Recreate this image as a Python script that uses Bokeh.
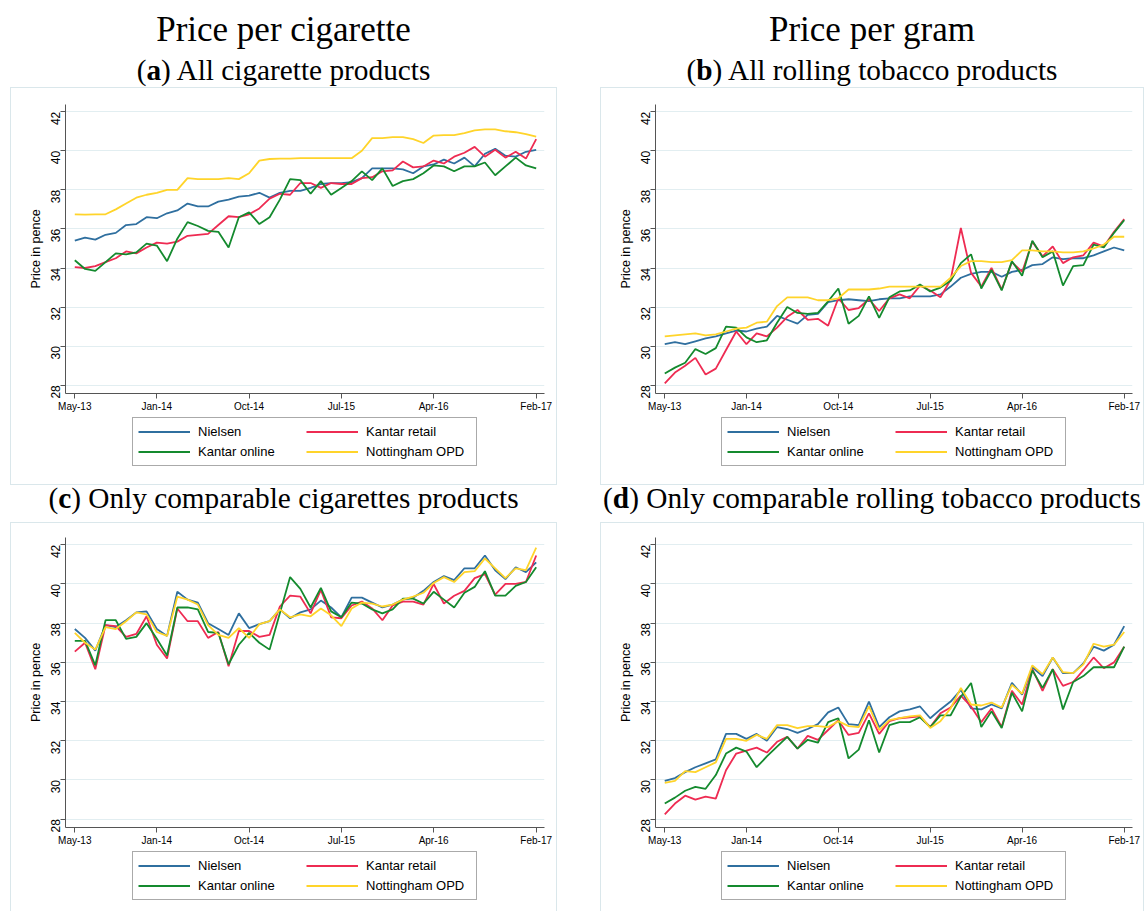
import math
from bokeh.plotting import figure
from bokeh.models import Range1d, FixedTicker, Legend, LegendItem, Div, Spacer
from bokeh.layouts import row, column
from bokeh.embed import file_html
from bokeh.resources import INLINE

months = list(range(46))
tick_pos = [0, 8, 17, 26, 35, 45]
tick_labels = ["May-13", "Jan-14", "Oct-14", "Jul-15", "Apr-16", "Feb-17"]
y_ticks = [28, 30, 32, 34, 36, 38, 40, 42]
series_names = ["Nielsen", "Kantar retail", "Kantar online", "Nottingham OPD"]
series_colors = ["#2f6f9f", "#ee2b52", "#148a2e", "#ffd42a"]

# (a) All cigarette products
nielsen_a = [35.4, 35.55, 35.45, 35.7, 35.8, 36.2, 36.25, 36.6, 36.55, 36.8,
             36.95, 37.3, 37.15, 37.15, 37.4, 37.5, 37.65, 37.7, 37.85, 37.6,
             37.85, 37.95, 37.95, 38.1, 38.3, 38.35, 38.35, 38.4, 38.6, 39.1,
             39.1, 39.1, 39.05, 38.85, 39.2, 39.3, 39.55, 39.35, 39.65, 39.2,
             39.85, 40.1, 39.75, 39.7, 39.95, 40.05]
retail_a = [34.05, 34.0, 34.1, 34.3, 34.5, 34.85, 34.75, 35.05, 35.3, 35.25,
            35.35, 35.65, 35.7, 35.75, 36.2, 36.65, 36.6, 36.75, 37.05, 37.55,
            37.8, 37.75, 38.35, 38.35, 38.1, 38.35, 38.3, 38.3, 38.6, 38.65,
            38.95, 39.0, 39.45, 39.15, 39.2, 39.5, 39.35, 39.7, 39.9, 40.2,
            39.7, 40.05, 39.65, 39.95, 39.6, 40.6]
online_a = [34.4, 33.95, 33.85, 34.3, 34.75, 34.7, 34.8, 35.25, 35.15, 34.35,
            35.5, 36.35, 36.15, 35.9, 35.85, 35.05, 36.6, 36.85, 36.25, 36.6,
            37.5, 38.55, 38.5, 37.8, 38.45, 37.75, 38.1, 38.45, 38.95, 38.5,
            39.1, 38.2, 38.45, 38.55, 38.85, 39.25, 39.2, 38.95, 39.2, 39.2,
            39.4, 38.75, 39.2, 39.65, 39.25, 39.1]
opd_a = [36.75, 36.73, 36.75, 36.75, 37.0, 37.3, 37.6, 37.75, 37.85, 38.0,
         38.0, 38.6, 38.55, 38.55, 38.55, 38.6, 38.55, 38.85, 39.5, 39.58,
         39.6, 39.6, 39.62, 39.62, 39.62, 39.62, 39.62, 39.62, 40.0, 40.65,
         40.65, 40.7, 40.7, 40.6, 40.4, 40.78, 40.8, 40.8, 40.9, 41.05,
         41.1, 41.1, 41.0, 40.95, 40.85, 40.72]

# (b) All rolling tobacco products
nielsen_b = [30.1, 30.2, 30.1, 30.25, 30.4, 30.5, 30.65, 30.8, 30.75, 30.9,
             31.0, 31.55, 31.35, 31.15, 31.6, 31.65, 32.25, 32.35, 32.4, 32.35,
             32.3, 32.4, 32.45, 32.45, 32.55, 32.55, 32.55, 32.65, 33.05, 33.5,
             33.7, 33.8, 33.8, 33.55, 33.8, 33.9, 34.15, 34.2, 34.55, 34.45,
             34.5, 34.5, 34.65, 34.85, 35.05, 34.9]
retail_b = [28.1, 28.65, 29.0, 29.4, 28.55, 28.85, 29.8, 30.75, 30.1, 30.65,
            30.5, 30.95, 31.5, 31.85, 31.35, 31.4, 31.05, 32.45, 31.85, 31.95,
            32.4, 31.8, 32.45, 32.65, 32.45, 33.1, 32.85, 32.5, 33.4, 36.05,
            33.75, 33.05, 34.0, 32.9, 34.3, 33.8, 35.35, 34.6, 35.1, 34.25,
            34.55, 34.65, 35.3, 35.1, 35.85, 36.5]
online_b = [28.6, 28.9, 29.15, 29.85, 29.6, 29.9, 31.0, 30.95, 30.45, 30.2,
            30.3, 31.2, 32.0, 31.7, 31.65, 31.7, 32.3, 32.95, 31.15, 31.55,
            32.55, 31.45, 32.5, 32.8, 32.85, 33.15, 32.8, 33.0, 33.35, 34.25,
            34.7, 32.95, 33.9, 32.85, 34.35, 33.6, 35.4, 34.55, 34.85, 33.1,
            34.1, 34.15, 35.2, 35.05, 35.8, 36.45]
opd_b = [30.5, 30.55, 30.6, 30.65, 30.55, 30.6, 30.75, 30.9, 30.95, 31.2,
         31.25, 32.05, 32.5, 32.5, 32.5, 32.35, 32.35, 32.45, 32.9, 32.9,
         32.9, 32.95, 33.05, 33.05, 33.05, 33.05, 33.05, 33.05, 33.5, 34.1,
         34.35, 34.35, 34.3, 34.3, 34.4, 34.9, 34.9, 34.85, 34.85, 34.8,
         34.8, 34.85, 35.0, 35.2, 35.6, 35.6]

# (c) Only comparable cigarettes products
nielsen_c = [37.7, 37.25, 36.6, 37.9, 37.8, 38.15, 38.55, 38.6, 37.7, 37.35,
             39.6, 39.2, 39.05, 38.0, 37.7, 37.4, 38.5, 37.75, 37.95, 38.1,
             38.7, 38.25, 38.55, 38.7, 39.15, 38.8, 38.3, 39.3, 39.3, 39.05,
             38.8, 38.95, 39.2, 39.3, 39.65, 40.1, 40.4, 40.2, 40.8, 40.8,
             41.45, 40.7, 40.25, 40.85, 40.6, 41.1]
retail_c = [36.55, 37.0, 35.65, 37.9, 37.85, 37.3, 37.45, 38.35, 36.9, 36.2,
            38.75, 38.1, 38.1, 37.25, 37.55, 35.8, 37.6, 37.6, 37.3, 37.4,
            38.85, 39.4, 39.35, 38.5, 39.7, 38.3, 38.25, 38.9, 39.1, 38.75,
            38.15, 38.9, 39.1, 39.1, 38.95, 40.0, 39.0, 39.4, 39.65, 40.3,
            40.5, 39.45, 40.0, 40.0, 40.1, 41.45]
online_c = [37.1, 37.1, 35.85, 38.15, 38.15, 37.2, 37.3, 38.0, 37.2, 36.35,
            38.8, 38.8, 38.7, 37.55, 37.5, 35.9, 36.9, 37.5, 37.0, 36.65,
            38.5, 40.35, 39.75, 38.8, 39.8, 38.6, 38.3, 39.05, 39.0, 38.7,
            38.5, 38.7, 39.25, 39.25, 39.0, 39.6, 39.2, 38.8, 39.55, 39.85,
            40.65, 39.4, 39.4, 39.9, 40.1, 40.85]
opd_c = [37.5, 37.0, 36.65, 37.8, 37.7, 38.1, 38.55, 38.45, 37.55, 37.35,
         39.35, 39.2, 38.95, 37.9, 37.4, 37.25, 37.75, 37.25, 37.95, 38.1,
         38.7, 38.3, 38.45, 38.35, 38.75, 38.4, 37.85, 38.75, 39.05, 39.0,
         38.85, 38.95, 39.2, 39.35, 39.55, 40.05, 40.35, 40.1, 40.6, 40.65,
         41.3, 40.8, 40.3, 40.8, 40.7, 41.85]

# (d) Only comparable rolling tobacco products
nielsen_d = [29.95, 30.1, 30.4, 30.65, 30.85, 31.05, 32.35, 32.35, 32.1, 32.35,
             32.0, 32.7, 32.6, 32.4, 32.6, 32.85, 33.45, 33.7, 32.85, 32.8,
             34.0, 32.7, 33.2, 33.5, 33.6, 33.75, 33.15, 33.6, 34.0, 34.6,
             33.65, 33.6, 33.85, 33.65, 34.95, 34.35, 35.75, 35.3, 36.25, 35.45,
             35.45, 35.95, 36.8, 36.6, 36.9, 37.85]
retail_d = [28.25, 28.8, 29.2, 29.0, 29.15, 29.05, 30.5, 31.35, 31.5, 31.65,
            31.4, 31.95, 32.2, 31.6, 32.25, 32.05, 32.55, 33.05, 32.3, 32.4,
            33.4, 32.35, 33.0, 33.15, 33.2, 33.25, 32.7, 33.4, 33.7, 34.3,
            33.75, 32.95, 33.65, 32.7, 34.55, 33.85, 35.65, 34.55, 35.65, 34.8,
            35.0, 35.6, 36.25, 35.7, 36.0, 36.8]
online_d = [28.8, 29.1, 29.45, 29.65, 29.55, 30.25, 31.35, 31.65, 31.45, 30.65,
            31.2, 31.7, 32.2, 31.6, 32.05, 31.9, 32.95, 33.15, 31.1, 31.55,
            33.05, 31.4, 32.8, 32.95, 32.95, 33.2, 32.7, 33.3, 33.3, 34.25,
            34.95, 32.7, 33.5, 32.65, 34.45, 33.5, 35.6, 34.7, 35.65, 33.6,
            35.0, 35.3, 35.75, 35.75, 35.75, 36.8]
opd_d = [29.85, 29.95, 30.45, 30.4, 30.65, 30.9, 32.1, 32.1, 32.0, 32.3,
         32.1, 32.8, 32.8, 32.65, 32.75, 32.75, 32.7, 33.0, 32.75, 32.7,
         33.75, 32.55, 33.05, 33.15, 33.25, 33.3, 32.65, 33.0, 33.65, 34.7,
         33.85, 33.8, 33.95, 33.7, 34.85, 34.4, 35.85, 35.4, 36.25, 35.5,
         35.45, 35.9, 36.95, 36.8, 36.9, 37.55]

SANS = "Liberation Sans"
SERIF = "Liberation Serif"
BORDER = "1px solid #dae7eb"
NAN = float("nan")


def make_chart(width, height, right, top, data):
    p = figure(width=width, height=height, output_backend="svg", toolbar_location=None,
               x_range=Range1d(-0.906, 45.81), y_range=Range1d(27.576, 42.37),
               min_border_left=54, min_border_right=right, min_border_top=top,
               min_border_bottom=23)
    p.styles = {"border-top": BORDER, "border-left": BORDER, "border-right": BORDER,
                "box-sizing": "border-box"}
    p.outline_line_color = None
    p.background_fill_color = "white"
    p.border_fill_color = "white"
    p.xgrid.grid_line_color = None
    p.ygrid.grid_line_color = "#e2eef1"
    p.ygrid.grid_line_width = 1.2
    p.ygrid.ticker = FixedTicker(ticks=y_ticks)

    for k in range(4):
        p.line(months, data[k], line_color=series_colors[k], line_width=1.8)

    xa = p.xaxis[0]
    xa.ticker = FixedTicker(ticks=tick_pos)
    xa.major_label_overrides = {t: l for t, l in zip(tick_pos, tick_labels)}
    xa.minor_tick_line_color = None
    xa.major_tick_out = 5
    xa.major_tick_in = 0
    xa.major_label_standoff = 2
    xa.major_label_text_font = SANS
    xa.major_label_text_font_size = "10px"
    xa.major_label_text_color = "black"
    xa.axis_line_color = "#555555"
    xa.major_tick_line_color = "#555555"

    ya = p.yaxis[0]
    ya.ticker = FixedTicker(ticks=y_ticks)
    ya.minor_tick_line_color = None
    ya.major_tick_out = 5
    ya.major_tick_in = 0
    ya.major_label_standoff = 5
    ya.major_label_orientation = math.pi / 2
    ya.major_label_text_font = SANS
    ya.major_label_text_font_size = "12px"
    ya.major_label_text_color = "black"
    ya.axis_line_color = "#555555"
    ya.major_tick_line_color = "#555555"
    ya.axis_label = "Price in pence"
    ya.axis_label_text_font = SANS
    ya.axis_label_text_font_size = "12.5px"
    ya.axis_label_text_font_style = "normal"
    ya.axis_label_text_color = "black"
    ya.axis_label_standoff = 1
    return p


def make_legend(width, height, left, bottom, closed):
    lp = figure(width=width, height=height, output_backend="svg", toolbar_location=None,
                x_range=Range1d(0, 1), y_range=Range1d(0, 1),
                x_axis_type=None, y_axis_type=None, min_border=0)
    st = {"border-left": BORDER, "border-right": BORDER, "box-sizing": "border-box"}
    if closed:
        st["border-bottom"] = BORDER
    lp.styles = st
    lp.outline_line_color = None
    lp.grid.visible = False
    # legend keys only: a single missing point, so nothing is drawn in the frame
    renderers = [lp.line(x=[NAN], y=[NAN], line_color=series_colors[k], line_width=1.8)
                 for k in range(4)]
    items = [LegendItem(label=series_names[k], renderers=[renderers[k]]) for k in range(4)]
    legend = Legend(items=items, orientation="horizontal", ncols=2, location=(left, bottom))
    legend.label_text_font = SANS
    legend.label_text_font_size = "13px"
    legend.label_text_color = "black"
    legend.glyph_width = 52
    legend.glyph_height = 17
    legend.label_height = 17
    legend.label_width = 105
    legend.label_standoff = 8
    legend.spacing = 3
    legend.padding = 5
    legend.margin = 0
    legend.border_line_color = "#555555"
    legend.border_line_width = 1
    legend.background_fill_alpha = 1
    lp.add_layout(legend)
    return lp


def title_div(width, height, lines):
    html = ""
    for txt, size, lh in lines:
        html += (f"<div style=\"font-family:'{SERIF}';font-size:{size}px;line-height:{lh}px;"
                 f"width:{width}px;color:black;text-align:center;white-space:nowrap;margin:0;\">{txt}</div>")
    return Div(text=html, width=width, height=height, margin=0)


div_a = title_div(547, 87, [("Price per cigarette", 35, 60),
                            ("(<b>a</b>) All cigarette products", 29.3, 20)])
div_b = title_div(544, 87, [("Price per gram", 35, 60),
                            ("(<b>b</b>) All rolling tobacco products", 29.3, 20)])
div_c = title_div(547, 37, [("(<b>c</b>) Only comparable cigarettes products", 29.3, 27)])
div_d = title_div(544, 37, [("(<b>d</b>) Only comparable rolling tobacco products", 29.3, 27)])

fig_a = make_chart(547, 328, 14, 16, [nielsen_a, retail_a, online_a, opd_a])
fig_b = make_chart(544, 328, 13, 16, [nielsen_b, retail_b, online_b, opd_b])
fig_c = make_chart(547, 327, 14, 14, [nielsen_c, retail_c, online_c, opd_c])
fig_d = make_chart(544, 327, 13, 14, [nielsen_d, retail_d, online_d, opd_d])

leg_a = make_legend(547, 70, 121, 19, True)
leg_b = make_legend(544, 70, 120, 19, True)
leg_c = make_legend(547, 62, 121, 11, False)
leg_d = make_legend(544, 62, 120, 11, False)

layout = column(
    row(Spacer(width=10, height=87), div_a, Spacer(width=43, height=87), div_b),
    row(Spacer(width=10, height=328), fig_a, Spacer(width=43, height=328), fig_b),
    row(Spacer(width=10, height=70), leg_a, Spacer(width=43, height=70), leg_b),
    row(Spacer(width=10, height=37), div_c, Spacer(width=43, height=37), div_d),
    row(Spacer(width=10, height=327), fig_c, Spacer(width=43, height=327), fig_d),
    row(Spacer(width=10, height=62), leg_c, Spacer(width=43, height=62), leg_d),
)

open("out.html", "w").write(file_html(layout, INLINE))
